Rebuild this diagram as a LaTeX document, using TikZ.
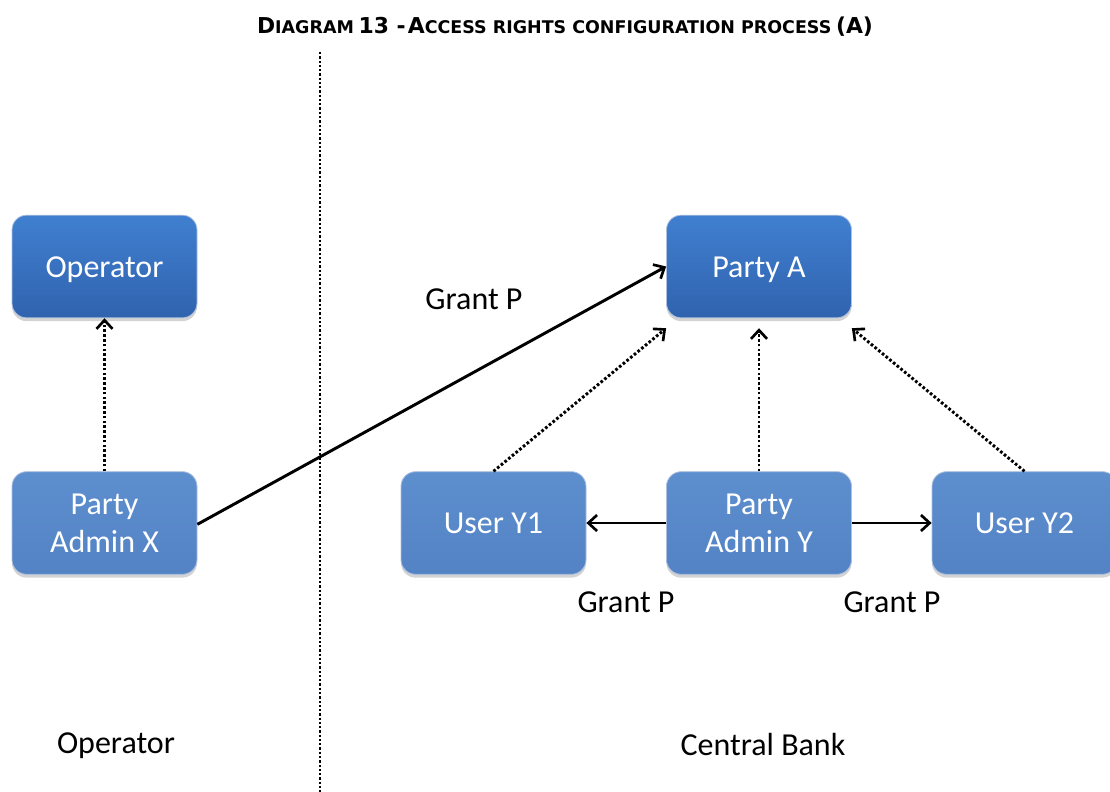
\documentclass[tikz,border=0pt]{standalone}
\usepackage{fontspec}
\setmainfont{Carlito}
\newfontfamily\titlefont{DejaVu Sans}
\usetikzlibrary{arrows.meta,shadows}

\definecolor{darktop}{RGB}{64,127,208}
\definecolor{darkbot}{RGB}{48,99,174}
\definecolor{lighttop}{RGB}{93,142,206}
\definecolor{lightbot}{RGB}{83,131,196}

\tikzset{
  box/.style={rounded corners=11pt, minimum width=138.75pt, minimum height=77pt,
    inner sep=0pt, align=center, text=white, font=\fontsize{24}{28.5}\selectfont,
    draw=white!60!darkbot, line width=0.6pt,
    drop shadow={shadow xshift=0pt, shadow yshift=-2.5pt, opacity=0.35}},
  oneline/.style={text height=19pt, text depth=3pt},
  darkbox/.style={box, top color=darktop, bottom color=darkbot},
  lightbox/.style={box, top color=lighttop, bottom color=lightbot},
  grant/.style={line width=2.2pt, -{Straight Barb[length=6.5pt, width=12pt, line width=2pt]}},
  perm/.style={grant, dash pattern=on 2pt off 1.6pt},
  lbl/.style={font=\fontsize{24}{28.5}\selectfont}
}

\newcommand{\bigc}[1]{{\fontsize{16.4}{19}\selectfont #1}}
\newcommand{\smallc}[1]{{\fontsize{13.1}{19}\selectfont #1}}

\begin{document}
\begin{tikzpicture}[x=0.75pt, y=-0.75pt]
  \useasboundingbox (0,0) rectangle (1110,792);
  \clip (0,0) rectangle (1110,792);

  % Titolo
  \node[font=\titlefont\bfseries, anchor=base] (title) at (565,34)
    {\bigc{D}\smallc{IAGRAM} \bigc{13 -}\,\bigc{A}\smallc{CCESS RIGHTS CONFIGURATION PROCESS} \bigc{(A)}};

  % Separatore tra le due aree
  \coordinate (septop) at (320,52);
  \coordinate (sepbot) at (320,792);
  \draw[line width=1.7pt, dash pattern=on 1.7pt off 1.5pt] (septop) -- (sepbot);

  % Area Operator
  \node[darkbox, oneline] (operator) at (104.5,266.5) {Operator};
  \node[lightbox] (adminx) at (104.5,523) {Party\\Admin X};

  % Area Central Bank
  \node[darkbox, oneline] (partya) at (759,266.5) {Party A};
  \node[lightbox, oneline] (usery1) at (493.5,523) {User Y1};
  \node[lightbox] (adminy) at (759,523) {Party\\Admin Y};
  \node[lightbox, oneline] (usery2) at (1024.5,523) {User Y2};

  % Frecce tratteggiate (appartenenza)
  \draw[perm] (adminx.north) -- (operator.south);
  \draw[perm] (usery1.north) -- ([yshift=-7.5pt]partya.south west);
  \draw[perm] (adminy.north) -- ([yshift=-7.5pt]partya.south);
  \draw[perm] (usery2.north) -- ([yshift=-7.5pt]partya.south east);

  % Frecce continue (Grant P)
  \draw[grant] ([yshift=-1pt]adminx.east) -- (partya.west);
  \draw[grant] (adminy.west) -- (usery1.east);
  \draw[grant] (adminy.east) -- (usery2.west);

  % Etichette
  \node[lbl] (g1) at (474,299) {Grant P};
  \node[lbl] (g2) at (626,602) {Grant P};
  \node[lbl] (g3) at (892,602) {Grant P};
  \node[lbl] (opzone) at (116,746) {Operator};
  \node[lbl] (cbzone) at (763,744) {Central Bank};
\end{tikzpicture}
\end{document}
